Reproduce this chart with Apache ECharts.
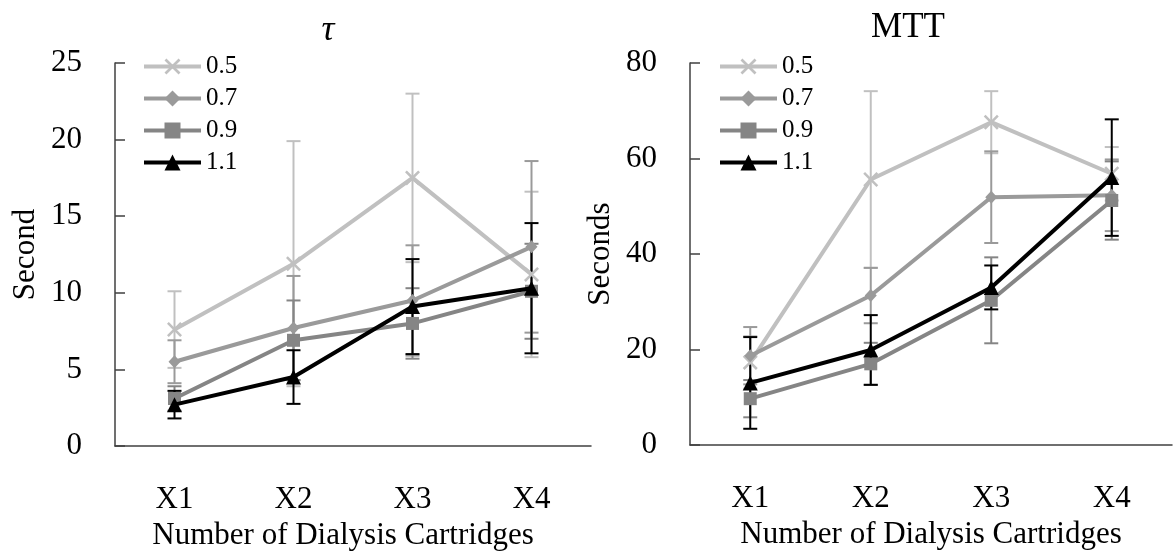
<!DOCTYPE html>
<html>
<head>
<meta charset="utf-8">
<script src="https://cdn.jsdelivr.net/npm/echarts@6/dist/echarts.min.js"></script>
<style>
html,body{margin:0;padding:0;background:#fff;}
#chart{width:1175px;height:559px;}
</style>
</head>
<body>
<div id="chart"></div>
<script>
const categories = ['X1', 'X2', 'X3', 'X4'];
const seriesNames = ['0.5', '0.7', '0.9', '1.1'];
const tauTicks = [0, 5, 10, 15, 20, 25];
const mttTicks = [0, 20, 40, 60, 80];

// tau (Second): means and +/- error
const tau05 = [7.6, 11.9, 17.5, 11.2];
const tau05Err = [2.5, 8.0, 5.5, 5.4];
const tau07 = [5.5, 7.7, 9.5, 13.0];
const tau07Err = [1.4, 3.4, 3.6, 5.6];
const tau09 = [3.1, 6.9, 8.0, 10.1];
const tau09Err = [0.8, 2.6, 2.3, 3.1];
const tau11 = [2.7, 4.5, 9.1, 10.3];
const tau11Err = [0.9, 1.75, 3.1, 4.25];

// MTT (Seconds): means and +/- error
const mtt05 = [17.3, 55.6, 67.6, 56.8];
const mtt05Err = [5.5, 18.5, 6.5, 5.6];
const mtt07 = [18.7, 31.3, 51.9, 52.3];
const mtt07Err = [6.0, 5.8, 9.6, 7.5];
const mtt09 = [9.7, 17.0, 30.3, 51.2];
const mtt09Err = [3.9, 4.4, 9.0, 8.2];
const mtt11 = [13.0, 19.9, 33.0, 56.0];
const mtt11Err = [9.6, 7.3, 4.6, 12.2];

const FONT = '"Liberation Serif", "DejaVu Serif", "Times New Roman", serif';
const colors = ['#c0c0c0', '#9a9a9a', '#858585', '#000000'];
const crossPath = 'path://M0,1.2 L1.2,0 L5,3.8 L8.8,0 L10,1.2 L6.2,5 L10,8.8 L8.8,10 L5,6.2 L1.2,10 L0,8.8 L3.8,5 Z';
const symbols = [crossPath, 'diamond', 'rect', 'triangle'];
const symbolSizes = [15, [12, 13], 13, 15];

function errRender(color) {
  return function (params, api) {
    const x = api.value(0);
    const lo = api.coord([x, api.value(1)]);
    const hi = api.coord([x, api.value(2)]);
    const w = 7;
    const st = { stroke: color, lineWidth: 2 };
    return {
      type: 'group',
      children: [
        { type: 'line', shape: { x1: hi[0], y1: hi[1], x2: lo[0], y2: lo[1] }, style: st },
        { type: 'line', shape: { x1: hi[0] - w, y1: hi[1], x2: hi[0] + w, y2: hi[1] }, style: st },
        { type: 'line', shape: { x1: lo[0] - w, y1: lo[1], x2: lo[0] + w, y2: lo[1] }, style: st }
      ]
    };
  };
}

function errData(mean, err) {
  return mean.map((m, i) => [i, m - err[i], m + err[i]]);
}

const tauSets = [[tau05, tau05Err], [tau07, tau07Err], [tau09, tau09Err], [tau11, tau11Err]];
const mttSets = [[mtt05, mtt05Err], [mtt07, mtt07Err], [mtt09, mtt09Err], [mtt11, mtt11Err]];

const series = [];
[tauSets, mttSets].forEach((sets, gi) => {
  sets.forEach((s, k) => {
    series.push({
      type: 'custom',
      name: seriesNames[k] + ' err',
      xAxisIndex: gi, yAxisIndex: gi,
      renderItem: errRender(colors[k]),
      data: errData(s[0], s[1]),
      z: 1,
      silent: true
    });
  });
  sets.forEach((s, k) => {
    series.push({
      type: 'line',
      name: seriesNames[k],
      xAxisIndex: gi, yAxisIndex: gi,
      data: s[0],
      symbol: symbols[k],
      symbolSize: symbolSizes[k],
      showSymbol: true,
      lineStyle: { color: colors[k], width: 4 },
      itemStyle: { color: colors[k] },
      z: 3 + k,
      animation: false
    });
  });
});

function xAxis(gi) {
  return {
    type: 'category', gridIndex: gi, data: categories,
    axisLine: { lineStyle: { color: '#404040', width: 1.5 } },
    axisTick: { inside: true, length: 10, lineStyle: { color: '#404040', width: 1.5 } },
    axisLabel: { color: '#000', fontFamily: FONT, fontSize: 31, margin: 38 },
    name: 'Number of Dialysis Cartridges',
    nameLocation: 'middle', nameGap: 72,
    nameTextStyle: { color: '#000', fontFamily: FONT, fontSize: 31, padding: gi === 0 ? [0, 20, 0, 0] : 0 }
  };
}
function yAxis(gi, max, interval, name) {
  return {
    type: 'value', gridIndex: gi, min: 0, max: max, interval: interval,
    splitLine: { show: false },
    axisLine: { show: true, lineStyle: { color: '#404040', width: 1.5 } },
    axisTick: { show: true, inside: true, length: 10, lineStyle: { color: '#404040', width: 1.5 } },
    axisLabel: { color: '#000', fontFamily: FONT, fontSize: 31, margin: 33 },
    name: name, nameLocation: 'middle', nameGap: 74, nameRotate: 90,
    nameTextStyle: { color: '#000', fontFamily: FONT, fontSize: 31 }
  };
}

function legend(left) {
  return {
    data: seriesNames, orient: 'vertical', left: left, top: 49,
    itemWidth: 57, itemHeight: 20, itemGap: 7,
    lineStyle: { width: 4 },
    textStyle: { color: '#000', fontFamily: FONT, fontSize: 25 },
    selectedMode: false
  };
}

const chart = echarts.init(document.getElementById('chart'), null, { renderer: 'canvas' });
chart.setOption({
  animation: false,
  backgroundColor: '#fff',
  title: [
    { text: 'τ', left: 323, top: 8, textAlign: 'center', textStyle: { fontFamily: FONT, fontSize: 36, fontWeight: 'normal', fontStyle: 'italic', color: '#000' } },
    { text: 'MTT', left: 903, top: 5, textAlign: 'center', textStyle: { fontFamily: FONT, fontSize: 35, fontWeight: 'normal', color: '#000' } }
  ],
  legend: [legend(137), legend(713)],
  grid: [
    { left: 115, top: 63, width: 476, height: 383 },
    { left: 690, top: 63, width: 482, height: 382 }
  ],
  xAxis: [xAxis(0), xAxis(1)],
  yAxis: [yAxis(0, tauTicks[tauTicks.length - 1], tauTicks[1] - tauTicks[0], 'Second'),
          yAxis(1, mttTicks[mttTicks.length - 1], mttTicks[1] - mttTicks[0], 'Seconds')],
  series: series
});
</script>
</body>
</html>
